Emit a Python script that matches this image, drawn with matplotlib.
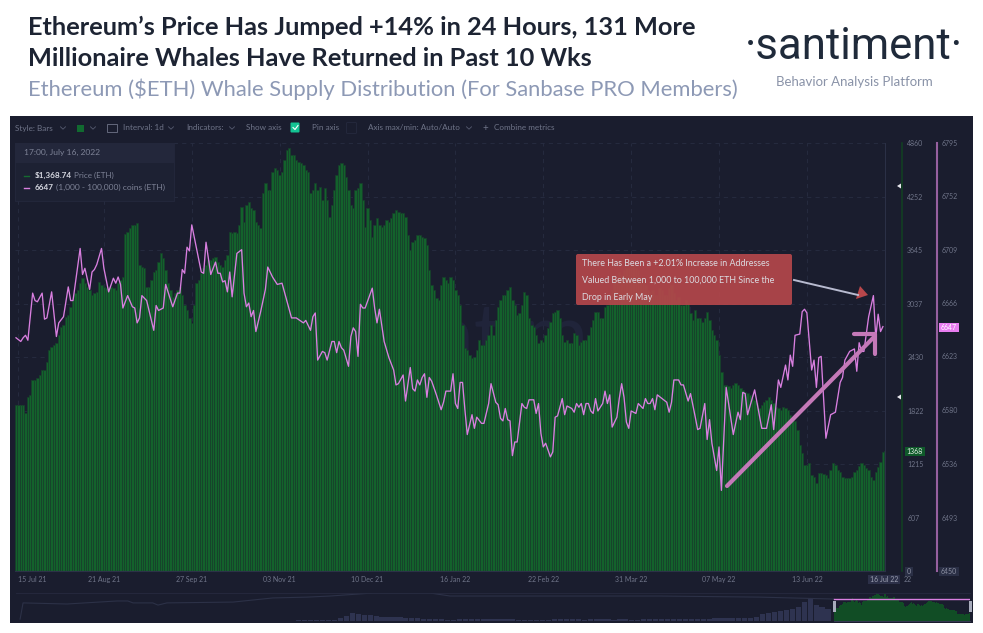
#!/usr/bin/env python
import matplotlib
matplotlib.use("Agg")
import matplotlib.pyplot as plt
from matplotlib.patches import Rectangle, FancyBboxPatch, Polygon
import numpy as np

# precio diario ETH, 15 Jul 21 - 16 Jul 22
price = [
    1886, 1886, 1886, 1886, 1795, 1977, 1999, 2170, 2170, 2192, 2227, 2283, 2283, 2374, 2511, 2545,
    2567, 2590, 2681, 2772, 2795, 2885, 2908, 2999, 3079, 3158, 3192, 3272, 3328, 3272, 3226, 3192,
    3135, 3158, 3169, 3283, 3249, 3226, 3215, 3226, 3226, 3215, 3192, 3272, 3306, 3340, 3828, 3851,
    3896, 3930, 3930, 3953, 3476, 3453, 3442, 3226, 3226, 3306, 3397, 3419, 3510, 3612, 3556, 3419,
    3272, 3192, 3113, 3158, 3192, 3226, 3135, 3022, 2965, 2874, 2817, 3022, 3272, 3306, 3385, 3442,
    3476, 3533, 3533, 3556, 3567, 3510, 3476, 3453, 3533, 3590, 3851, 3840, 3851, 3840, 3930, 4135,
    3965, 4158, 4192, 4124, 4101, 3965, 3930, 3896, 4294, 4408, 4328, 4328, 4533, 4578, 4555, 4499,
    4533, 4669, 4783, 4805, 4726, 4726, 4669, 4646, 4635, 4612, 4555, 4533, 4294, 4328, 4408, 4328,
    4362, 4215, 4351, 4215, 4021, 4158, 4328, 4499, 4612, 4635, 4612, 4476, 4328, 4158, 4124, 4328,
    4351, 4408, 4215, 3908, 4124, 3987, 3794, 3930, 4010, 3930, 3908, 3930, 3987, 3965, 4010, 4067,
    4101, 4078, 4067, 4067, 4021, 3817, 3647, 3737, 3760, 3817, 3817, 3794, 3783, 3703, 3419, 3249,
    3192, 3101, 3079, 3249, 3340, 3306, 3272, 3340, 3306, 3192, 3135, 3022, 2795, 2533, 2511, 2454,
    2420, 2431, 2511, 2624, 2567, 2567, 2624, 2681, 2795, 2681, 2851, 2999, 3079, 3135, 3135, 3192,
    3226, 3079, 3022, 2908, 2931, 3022, 3169, 3135, 2874, 2795, 2772, 2681, 2590, 2624, 2601, 2681,
    2761, 2829, 2931, 2942, 2965, 2874, 2681, 2601, 2624, 2590, 2590, 2704, 2681, 2567, 2601, 2624,
    2624, 2681, 2772, 2851, 2942, 2942, 2874, 2874, 2999, 3022, 3079, 3192, 3306, 3283, 3397, 3363,
    3419, 3442, 3442, 3465, 3488, 3442, 3419, 3328, 3306, 3249, 3192, 3169, 3192, 3135, 3135, 3215,
    3192, 3135, 3135, 3215, 3249, 3158, 3079, 3113, 3022, 3022, 3079, 3044, 2931, 2851, 2965, 2874,
    2874, 2829, 2874, 2942, 2851, 2738, 2681, 2624, 2454, 2261, 2113, 2113, 2102, 2079, 2113, 2136,
    2113, 2079, 2056, 2033, 2022, 1999, 1965, 1943, 1908, 1852, 1886, 1920, 1943, 1977, 1943, 1908,
    1863, 1852, 1829, 1863, 1852, 1829, 1772, 1715, 1704, 1602, 1431, 1340, 1204, 1204, 1227, 1091,
    1068, 1000, 1113, 1113, 1102, 1091, 1056, 1147, 1227, 1204, 1147, 1125, 1068, 1056, 1056, 1056,
    1068, 1125, 1147, 1193, 1227, 1204, 1170, 1147, 1068, 1034, 1125, 1181, 1238, 1352, 1368,
]
price_days = np.arange(len(price))

# ballenas 1,000 - 100,000 ETH: (dia, monedas) en cada vertice
whale_points = [
    (0, 6638), (2, 6635), (3, 6638), (4, 6640), (5, 6636), (7, 6674), (8, 6668), (9, 6667),
    (11, 6674), (12, 6653), (13, 6654), (15, 6675), (17, 6639), (18, 6650), (20, 6655), (22, 6679),
    (23, 6668), (24, 6668), (27, 6710), (28, 6689), (29, 6694), (31, 6677), (32, 6691), (33, 6693),
    (34, 6697), (36, 6710), (37, 6694), (39, 6675), (41, 6686), (42, 6682), (43, 6687), (44, 6681),
    (45, 6662), (47, 6672), (49, 6663), (50, 6662), (51, 6650), (52, 6654), (53, 6672), (55, 6668),
    (58, 6644), (59, 6664), (60, 6660), (62, 6662), (63, 6681), (66, 6663), (68, 6674), (69, 6674),
    (70, 6693), (71, 6690), (72, 6711), (73, 6708), (74, 6729), (76, 6710), (78, 6691), (79, 6690),
    (80, 6715), (82, 6689), (84, 6699), (85, 6690), (86, 6690), (87, 6683), (88, 6684), (89, 6675),
    (90, 6691), (91, 6671), (93, 6706), (95, 6709), (96, 6674), (97, 6663), (98, 6666), (99, 6655),
    (100, 6660), (101, 6643), (103, 6659), (105, 6677), (106, 6695), (108, 6687), (110, 6681),
    (112, 6682), (114, 6668), (116, 6654), (118, 6654), (121, 6650), (122, 6652), (124, 6644),
    (125, 6655), (126, 6658), (127, 6620), (129, 6627), (130, 6626), (131, 6620), (133, 6635),
    (134, 6635), (135, 6626), (136, 6635), (137, 6630), (138, 6628), (140, 6615), (141, 6639),
    (142, 6646), (143, 6643), (144, 6623), (145, 6665), (146, 6662), (147, 6662), (150, 6678),
    (151, 6662), (152, 6650), (153, 6661), (155, 6635), (157, 6622), (159, 6612), (160, 6600),
    (161, 6601), (163, 6608), (164, 6587), (166, 6614), (167, 6597), (168, 6595), (169, 6604),
    (170, 6600), (171, 6606), (172, 6609), (173, 6590), (174, 6606), (175, 6603), (177, 6592),
    (179, 6580), (180, 6586), (181, 6595), (183, 6595), (184, 6609), (185, 6585), (186, 6581),
    (187, 6602), (188, 6602), (189, 6580), (190, 6560), (192, 6576), (193, 6565), (194, 6574),
    (196, 6569), (197, 6569), (199, 6585), (200, 6601), (202, 6586), (203, 6584), (204, 6573),
    (205, 6571), (206, 6581), (207, 6572), (208, 6571), (209, 6543), (210, 6554), (211, 6554),
    (213, 6585), (214, 6582), (215, 6581), (216, 6588), (218, 6588), (219, 6577), (220, 6585),
    (221, 6561), (222, 6550), (223, 6553), (225, 6542), (226, 6546), (227, 6574), (228, 6575),
    (230, 6589), (231, 6576), (232, 6583), (234, 6581), (235, 6578), (236, 6585), (237, 6582),
    (238, 6585), (239, 6576), (240, 6585), (241, 6585), (242, 6579), (243, 6577), (244, 6589),
    (245, 6579), (247, 6585), (248, 6595), (249, 6585), (250, 6592), (251, 6566), (253, 6574),
    (254, 6589), (255, 6601), (256, 6590), (257, 6570), (258, 6565), (259, 6579), (261, 6577),
    (262, 6585), (264, 6581), (265, 6589), (266, 6585), (267, 6585), (268, 6589), (269, 6580),
    (270, 6592), (272, 6589), (274, 6586), (275, 6578), (276, 6586), (277, 6604), (279, 6604),
    (280, 6600), (281, 6600), (283, 6587), (284, 6593), (286, 6574), (287, 6564), (288, 6565),
    (290, 6585), (291, 6556), (292, 6572), (293, 6553), (295, 6531), (296, 6550), (297, 6515),
    (299, 6598), (302, 6560), (304, 6578), (305, 6572), (306, 6594), (307, 6593), (308, 6576),
    (311, 6596), (314, 6565), (316, 6565), (318, 6584), (319, 6564), (321, 6604), (322, 6598),
    (324, 6616), (325, 6604), (326, 6624), (327, 6615), (328, 6640), (330, 6641), (331, 6659),
    (332, 6661), (333, 6658), (335, 6612), (336, 6620), (337, 6598), (338, 6622), (339, 6623),
    (341, 6557), (343, 6576), (345, 6578), (347, 6602), (348, 6606), (349, 6620), (351, 6627),
    (353, 6629), (354, 6611), (355, 6634), (356, 6627), (357, 6627), (359, 6655), (361, 6672),
    (362, 6638), (363, 6657), (364, 6643), (365, 6647),
]
whale_days = [p[0] for p in whale_points]
whale_coins = [p[1] for p in whale_points]

price_ticks = [0, 607, 1215, 1822, 2430, 3037, 3645, 4252, 4860]
whale_ticks = [6450, 6493, 6536, 6580, 6623, 6666, 6709, 6752, 6795]
date_days = [1, 37, 74, 111, 148, 185, 222, 259, 296, 333]
date_labels = ["15 Jul 21", "21 Aug 21", "27 Sep 21", "03 Nov 21", "10 Dec 21",
               "16 Jan 22", "22 Feb 22", "31 Mar 22", "07 May 22", "13 Jun 22"]

# navegador inferior: historia antes del rango seleccionado (cada 16 dias)
nav_hist = [
    60, 70, 80, 90, 100, 110, 150, 400, 800, 1300, 1200, 1000, 900, 800, 700, 600, 700, 650, 500,
    450, 400, 300, 250, 200, 200, 150, 150, 180, 200, 250, 300, 250, 200, 200, 220, 200, 180, 150,
    150, 130, 130, 140, 150, 200, 280, 250, 220, 200, 170, 180, 190, 200, 180, 170, 180, 200, 170,
    140, 180, 200, 230, 240, 230, 220, 230, 240, 250, 280, 300, 350, 380, 370, 380, 400, 420, 450,
    500, 600, 1200, 1300, 1500, 1700, 1800, 2000, 2400, 3300, 4000, 2800, 2300, 2000,
]
nav_hist_days = [-1440 + 16 * i for i in range(len(nav_hist))]
nav_line_days = [-2190, -2182, -2064, -1929, -1900, -1886, -1833, -1819, -1795, -1617, -1510,
                 -1418, -1356, -1240, -1087, -1033, -907, -468, -199]
nav_line_level = [5, 64, 60, 71, 71, 64, 64, 56, 64, 67, 82, 85, 89, 100, 100, 89, 89, 89, 85]

BG = "#1a1d2e"
GREEN = "#13622c"
PINK = "#d97fe0"
TICK = "#6f7488"
W, H = 983.0, 633.0


def px_axes(x0, y0, x1, y1):
    # rectangulo en pixeles de la imagen -> fraccion de figura
    return [x0 / W, (H - y1) / H, (x1 - x0) / W, (y1 - y0) / H]


plt.rcParams["font.family"] = ["Lato", "DejaVu Sans"]
fig = plt.figure(figsize=(9.83, 6.33), dpi=100, facecolor="white")

# fondo y textos de cabecera
bg = fig.add_axes([0, 0, 1, 1], zorder=0)
bg.set_xlim(0, W)
bg.set_ylim(H, 0)
bg.axis("off")
bg.add_patch(Rectangle((10, 116), 963, 507, fc=BG, ec="none"))
bg.text(28, 35, "Ethereum’s Price Has Jumped +14% in 24 Hours, 131 More", fontsize=18.3,
        fontweight="bold", color="#1d2433", va="baseline")
bg.text(28, 66, "Millionaire Whales Have Returned in Past 10 Wks", fontsize=18.3,
        fontweight="bold", color="#1d2433", va="baseline")
bg.text(28, 96, "Ethereum ($ETH) Whale Supply Distribution (For Sanbase PRO Members)",
        fontsize=15.8, color="#8d99b5", va="baseline")
bg.text(854, 59, "·santiment·", fontsize=31.5, color="#1f2a3a", ha="center", va="baseline",
        family="Roboto")
bg.text(854, 86, "Behavior Analysis Platform", fontsize=9.5, color="#8a93a8", ha="center",
        va="baseline")
bg.text(530, 362, "santiment", fontsize=58, color="#20243a", ha="center", va="baseline")

# barras de precio
ax = fig.add_axes(px_axes(15.3, 143, 885.4, 571), zorder=1)
ax.patch.set_visible(False)
ax.bar(price_days, price, width=1.0, color=GREEN, edgecolor="#17402b", linewidth=0.5, zorder=2)
ax.set_xlim(-0.3, 366.05)
ax.set_ylim(0, 4860)
ax.set_xticks(date_days)
ax.set_xticklabels(date_labels)
ax.get_xticklabels()[0].set_ha("left")
ax.grid(True, color="#282d42", lw=0.6, ls=(0, (5, 5)), zorder=0)
ax.set_axisbelow(True)
ax.tick_params(axis="x", length=0, pad=3.5, labelsize=5, labelcolor=TICK)

# linea de ballenas, eje propio
ax2 = ax.twinx()
ax2.set_zorder(2)
ax2.patch.set_visible(False)
ax2.plot(whale_days, whale_coins, color=PINK, lw=0.95, zorder=3)
ax2.set_ylim(6450, 6795)
ax2.set_yticks(whale_ticks)
ax2.set_yticklabels([str(v) for v in whale_ticks])
ax2.tick_params(axis="y", length=0, pad=3, labelsize=5, labelcolor=TICK)
for side in ["top", "left", "bottom"]:
    ax2.spines[side].set_visible(False)
ax2.spines["right"].set_position(("outward", 37.4))
ax2.spines["right"].set_color("#96609f")
ax2.spines["right"].set_linewidth(1.5)

# twinx devuelve las marcas a la izquierda, asi que el eje de precio va despues
ax.yaxis.tick_right()
ax.set_yticks(price_ticks)
ax.set_yticklabels([str(v) for v in price_ticks])
ax.tick_params(axis="y", length=0, pad=3.5, labelsize=5, labelcolor=TICK)
for side in ["top", "left"]:
    ax.spines[side].set_visible(False)
ax.spines["bottom"].set_color("#2c3147")
ax.spines["right"].set_position(("outward", 12.2))
ax.spines["right"].set_color("#123f22")
ax.spines["right"].set_linewidth(1.2)

# navegador
nav = fig.add_axes(px_axes(16, 593, 970, 620.5), zorder=3)
nav.patch.set_visible(False)
nav.bar(nav_hist_days, nav_hist, width=14, color="#2e3350", linewidth=0)
nav.bar(price_days, price, width=1.4, color="#114d25", linewidth=0)
nav.set_xlim(-2201, 366)
nav.set_ylim(0, 4860)
nav.axis("off")
nav2 = nav.twinx()
nav2.patch.set_visible(False)
nav2.plot(nav_line_days + [0], nav_line_level + [78], color="#2c3147", lw=0.8)
nav2.plot([0, 366], [78, 78], color=PINK, lw=1.0)
nav2.set_ylim(0, 100)
nav2.axis("off")

# capa de anotaciones, en pixeles
deco = fig.add_axes([0, 0, 1, 1], zorder=5)
deco.patch.set_visible(False)
deco.set_xlim(0, W)
deco.set_ylim(H, 0)
deco.axis("off")


def chevron(x, y=128):
    deco.plot([x - 2.5, x, x + 2.5], [y - 1.2, y + 1.2, y - 1.2], color="#565b70", lw=0.6)


# barra de herramientas
for label, x in [("Style: Bars", 15), ("Interval: 1d", 123), ("Indicators:", 186),
                 ("Show axis", 246), ("Pin axis", 312), ("Axis max/min: Auto/Auto", 368),
                 ("Combine metrics", 494)]:
    deco.text(x, 128, label, fontsize=5.9, color=TICK, va="center")
deco.text(485, 128, "+", fontsize=7, color=TICK, va="center", ha="center")
for x in [63, 93, 171, 232, 469]:
    chevron(x)
deco.add_patch(Rectangle((77, 125), 7, 7, fc="#116a30", ec="none"))
deco.add_patch(Rectangle((107, 124), 10, 8, fc="none", ec="#6f7488", lw=0.6))
deco.add_patch(FancyBboxPatch((291, 123), 8, 9, boxstyle="round,pad=0.5,rounding_size=1",
                              fc="#14c393", ec="none"))
deco.plot([293, 295, 298], [127.5, 129.5, 125.5], color="white", lw=0.8)
deco.add_patch(FancyBboxPatch((347, 123), 9, 10, boxstyle="round,pad=0.5,rounding_size=1",
                              fc="none", ec="#24283c", lw=0.7))

# leyenda
deco.add_patch(Rectangle((15, 143), 159, 58, fc="#1d2133", ec="#262a3f", lw=0.5))
deco.add_patch(Rectangle((15, 143), 159, 20, fc="#23273b", ec="none"))
deco.text(24, 152.5, "17:00, July 16, 2022", fontsize=6.1, color="#7d8296", va="center")
deco.plot([24, 29], [175.5, 175.5], color="#156b30", lw=1)
deco.plot([24, 29], [187.5, 187.5], color=PINK, lw=1)
deco.text(34.5, 175.5, "$1,368.74", fontsize=5.9, color="#d5d7e0", fontweight="bold", va="center")
deco.text(74.5, 175.5, "Price (ETH)", fontsize=5.8, color="#7d8296", va="center")
deco.text(34.5, 187.5, "6647", fontsize=5.9, color="#d5d7e0", fontweight="bold", va="center")
deco.text(55.5, 187.5, "(1,000 - 100,000) coins (ETH)", fontsize=6.1, color="#7d8296", va="center")

# caja roja y flechas
deco.add_patch(FancyBboxPatch((577, 255), 214, 49, boxstyle="round,pad=1,rounding_size=2",
                              fc="#b3474b", ec="none", alpha=0.93))
for y, line in [(263, "There Has Been a +2.01% Increase in Addresses"),
                (280.5, "Valued Between 1,000 to 100,000 ETH Since the"),
                (298, "Drop in Early May")]:
    deco.text(582, y, line, fontsize=6.4, color="#dcdce2", va="center")
deco.plot([794, 858], [280, 295], color="#b8bbd0", lw=1.4)
deco.add_patch(Polygon([(856, 299), (860, 286), (868, 295)], fc="#b8474b", ec="none"))
deco.plot([727, 875], [486, 336], color="#c479b8", lw=3.0, solid_capstyle="round")
deco.plot([854, 875], [334, 334], color="#c479b8", lw=3.0, solid_capstyle="round")
deco.plot([875, 875], [334, 354], color="#c479b8", lw=3.0, solid_capstyle="round")

# separador, marcadores y etiquetas de eje
deco.plot([885, 885], [143, 571], color="#2c3147", lw=0.7)
deco.add_patch(Polygon([(897, 186), (901, 183.5), (901, 188.5)], fc="#e8e8ee", ec="none"))
deco.add_patch(Polygon([(897, 397), (901, 394.5), (901, 399.5)], fc="#e8e8ee", ec="none"))
for x0, y0, w, h, fc, txt, col in [(904.5, 447, 20, 9, "#0f5a2a", "1368", "#e6efe8"),
                                   (939, 323, 20, 9, "#e87df0", "6647", "white"),
                                   (905, 567, 8, 9, "#2a2f45", "0", "#8a8ea0"),
                                   (939, 567, 20, 9, "#2a2f45", "6450", "#8a8ea0"),
                                   (868, 575, 32, 9, "#2c3048", "16 Jul 22", "#9a9eb0")]:
    deco.add_patch(Rectangle((x0, y0), w, h, fc=fc, ec="none"))
    deco.text(x0 + w / 2, y0 + h / 2, txt, fontsize=5, color=col, ha="center", va="center")
deco.text(904, 579, "22", fontsize=5, color=TICK, va="center")

# marco del navegador
deco.plot([16, 970], [593, 593], color="#262a3f", lw=0.6)
deco.plot([834, 970], [620.5, 620.5], color="#3a3f58", lw=0.6)
deco.add_patch(Rectangle((833, 601), 2.5, 11, fc="#a8acbc", ec="none"))
deco.add_patch(Rectangle((969, 601), 2.5, 11, fc="#a8acbc", ec="none"))

fig.savefig("out.png", dpi=100, facecolor="white")
